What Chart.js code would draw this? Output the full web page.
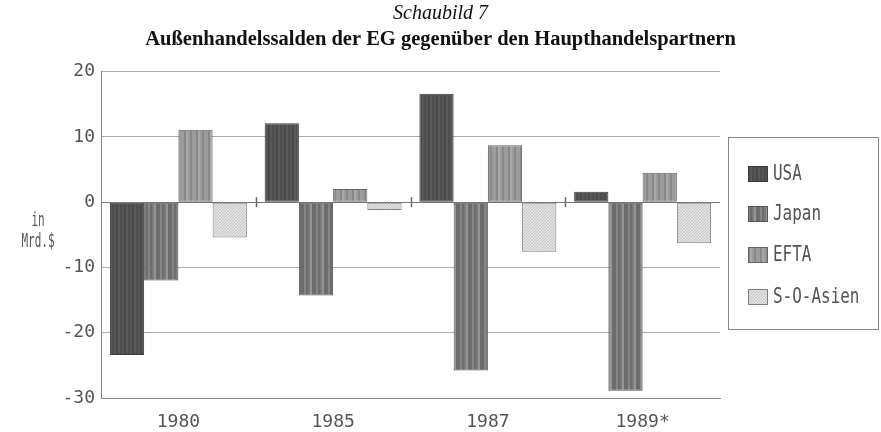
<!DOCTYPE html>
<html>
<head>
<meta charset="utf-8">
<script src="https://cdn.jsdelivr.net/npm/chart.js@4/dist/chart.umd.min.js"></script>
<style>
html,body{margin:0;padding:0;background:#fff;}
#wrap{width:881px;height:432px;}
</style>
</head>
<body>
<div id="wrap"><canvas id="c" width="881" height="432"></canvas></div>
<script>
const categories = ['1980', '1985', '1987', '1989*'];
const seriesNames = ['USA', 'Japan', 'EFTA', 'S-O-Asien'];
const usa = [-23.4, 12.1, 16.6, 1.6];
const japan = [-12.0, -14.3, -25.8, -28.9];
const efta = [11.1, 2.0, 8.7, 4.5];
const soAsien = [-5.4, -1.2, -7.6, -6.3];
const yMin = -30, yMax = 20, yStep = 10;
const titleText = 'Schaubild 7';
const subtitleText = 'Außenhandelssalden der EG gegenüber den Haupthandelspartnern';
const yTitleLines = ['in', 'Mrd.$'];

function stripes(colors, w) {
  const c = document.createElement('canvas');
  c.width = colors.length * w; c.height = 4;
  const x = c.getContext('2d');
  colors.forEach((col, i) => { x.fillStyle = col; x.fillRect(i * w, 0, w, 4); });
  return x.createPattern(c, 'repeat');
}
function dots(bg, fg) {
  const c = document.createElement('canvas');
  c.width = 3; c.height = 3;
  const x = c.getContext('2d');
  x.fillStyle = bg; x.fillRect(0, 0, 3, 3);
  x.fillStyle = fg; x.fillRect(0, 0, 1, 1); x.fillRect(2, 1, 1, 1); x.fillRect(1, 2, 1, 1);
  return x.createPattern(c, 'repeat');
}
const ctx = document.getElementById('c').getContext('2d');
const fills = [
  stripes(['#4e4e4e', '#555555', '#4a4a4a', '#585858'], 2),
  stripes(['#6c6c6c', '#6c6c6c', '#858585', '#6c6c6c', '#7a7a7a', '#959595'], 2),
  stripes(['#9c9c9c', '#9c9c9c', '#888888', '#a8a8a8', '#9c9c9c', '#8a8a8a'], 2),
  dots('#e2e2e2', '#c4c4c4')
];
const borders = ['#3c3c3c', '#555555', '#666666', '#808080'];
const seriesData = [usa, japan, efta, soAsien];

const mono = 'DejaVu Sans Mono';

const extras = {
  id: 'extras',
  beforeDraw(chart) {
    const c = chart.ctx;
    c.save(); c.fillStyle = '#fff'; c.fillRect(0, 0, chart.width, chart.height); c.restore();
  },
  afterDatasetsDraw(chart) {
    const c = chart.ctx;
    const xs = chart.scales.x, ys = chart.scales.y;
    const y0 = ys.getPixelForValue(0);
    c.save();
    c.strokeStyle = '#666'; c.lineWidth = 1.5;
    for (let i = 0; i < categories.length - 1; i++) {
      const px = Math.round((xs.getPixelForValue(i) + xs.getPixelForValue(i + 1)) / 2) + 0.5;
      c.beginPath(); c.moveTo(px, y0 - 5); c.lineTo(px, y0 + 5); c.stroke();
    }
    c.strokeStyle = '#777'; c.lineWidth = 1;
    c.beginPath(); c.moveTo(chart.chartArea.left, Math.round(y0) + 0.5); c.lineTo(chart.chartArea.right, Math.round(y0) + 0.5); c.stroke();
    const yt = (ys.getPixelForValue(0) + ys.getPixelForValue(-10)) / 2;
    c.fillStyle = '#555';
    c.font = '11px "' + mono + '"';
    c.textAlign = 'center'; c.textBaseline = 'middle';
    yTitleLines.forEach((t, i) => {
      c.save();
      c.translate(38, yt - 14 + i * 21);
      c.scale(1, 1.7);
      c.fillText(t, 0, 0);
      c.restore();
    });
    const L = 728.5, T = 137.5, R = 878.5, B = 329.5;
    c.strokeStyle = '#888'; c.lineWidth = 1;
    c.strokeRect(L, T, R - L, B - T);
    const rows = [174, 214, 255, 297];
    chart.data.datasets.forEach((ds, i) => {
      const cy = rows[i];
      c.fillStyle = ds.backgroundColor;
      c.fillRect(748, cy - 8, 20, 16);
      c.strokeStyle = ds.borderColor; c.lineWidth = 1;
      c.strokeRect(748.5, cy - 7.5, 19, 15);
      c.fillStyle = '#555';
      c.font = '14px "' + mono + '"';
      c.textAlign = 'left'; c.textBaseline = 'middle';
      c.save();
      c.translate(773, cy + 1);
      c.scale(1.14, 1.5);
      c.fillText(ds.label, 0, 0);
      c.restore();
    });
    c.restore();
  }
};

new Chart(ctx, {
  type: 'bar',
  data: {
    labels: categories,
    datasets: seriesNames.map((n, i) => ({
      label: n,
      data: seriesData[i],
      backgroundColor: fills[i],
      borderColor: borders[i],
      borderWidth: 1,
      borderSkipped: false,
      categoryPercentage: 0.885,
      barPercentage: 1.0
    }))
  },
  options: {
    responsive: false,
    animation: false,
    layout: { padding: { left: 0, right: 0, top: 0, bottom: 0 } },
    plugins: {
      legend: { display: false },
      tooltip: { enabled: false },
      title: {
        display: true, text: titleText, color: '#111',
        font: { family: 'Liberation Serif', size: 20, style: 'italic', weight: 'normal' },
        padding: { top: 2, bottom: 1 }
      },
      subtitle: {
        display: true, text: subtitleText, color: '#111',
        font: { family: 'Liberation Serif', size: 20.5, weight: 'bold' },
        padding: { top: 0, bottom: 20 }
      }
    },
    scales: {
      y: {
        min: yMin, max: yMax,
        ticks: { stepSize: yStep, color: '#555', font: { family: mono, size: 18 }, padding: 6 },
        grid: { color: '#aaa', drawTicks: false, lineWidth: 1 },
        border: { color: '#888' },
        afterFit(s) { s.width = 101; }
      },
      yR: {
        position: 'right',
        display: true,
        min: yMin, max: yMax,
        ticks: { display: false },
        grid: { display: false, drawOnChartArea: false, drawTicks: false },
        border: { display: false },
        afterFit(s) { s.width = 161; }
      },
      x: {
        grid: { display: false },
        border: { display: true, color: '#888' },
        ticks: { color: '#555', font: { family: mono, size: 18 }, padding: 6 },
        afterFit(s) { s.height = 34; }
      }
    }
  },
  plugins: [extras]
});
</script>
</body>
</html>
